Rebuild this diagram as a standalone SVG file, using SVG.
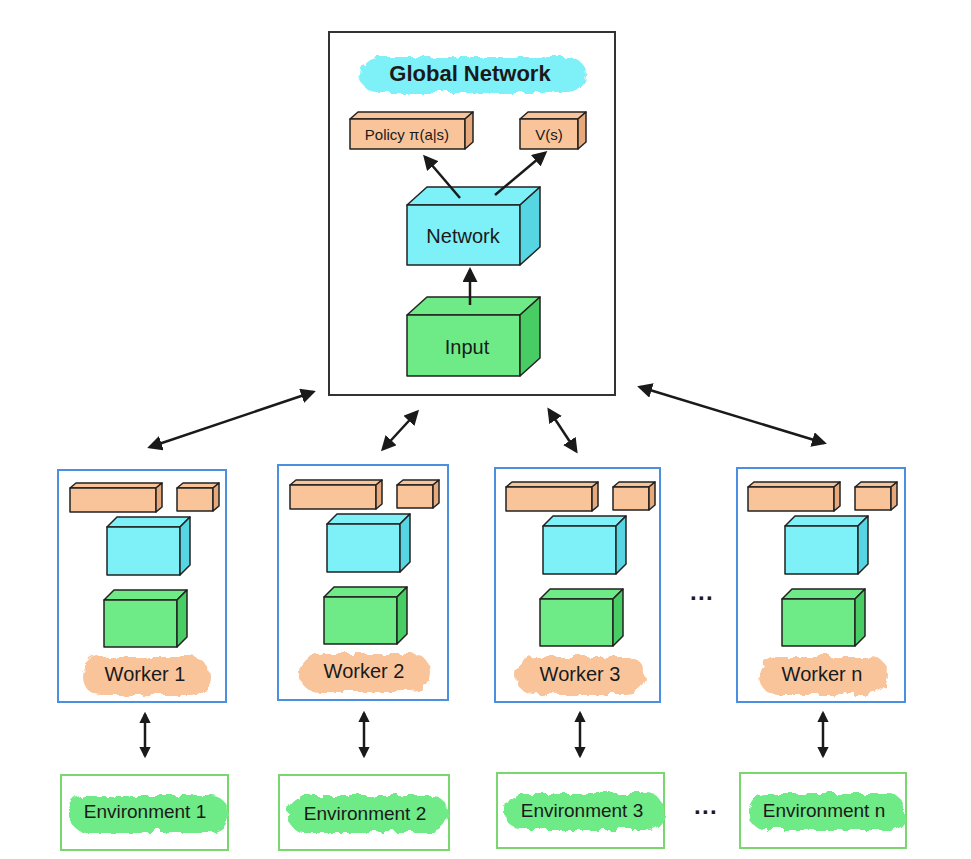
<svg xmlns="http://www.w3.org/2000/svg" width="971" height="859" viewBox="0 0 971 859">
<style>
text{font-family:"Liberation Sans",Arial,sans-serif;fill:#1a1a1a;text-anchor:middle}
.ln{stroke:#222;stroke-width:1.5;stroke-linejoin:round}
.or{fill:#f9c49a}.ord{fill:#e7a87c}.cy{fill:#7ef0f7}.cyd{fill:#55d6e2}.gr{fill:#6eea86}.grd{fill:#48cd64}
.wk{fill:#fff;stroke:#4a8fe0;stroke-width:2}
.env{fill:#fff;stroke:#7ad66e;stroke-width:2}
.con{stroke:#1a1a1a;stroke-width:2.5;fill:none}
</style>
<defs>
<marker id="ah" viewBox="0 0 10 10" refX="8" refY="5" markerWidth="6" markerHeight="6" orient="auto-start-reverse"><path d="M0,0L10,5L0,10z" fill="#1a1a1a"/></marker>
<marker id="as" viewBox="0 0 10 10" refX="8" refY="5" markerWidth="4.5" markerHeight="5" orient="auto-start-reverse"><path d="M0,0L10,5L0,10z" fill="#1a1a1a"/></marker>
<filter id="soft"><feTurbulence baseFrequency="0.06" numOctaves="2" seed="3"/><feDisplacementMap in="SourceGraphic" scale="8"/></filter>
<g id="wcontent">
<polygon class="or ln" points="12,18 98,18 104,13 18,13"/><rect class="or ln" x="12" y="18" width="86" height="24"/><polygon class="ord ln" points="98,18 104,13 104,37 98,42"/>
<polygon class="or ln" points="119,18 155,18 161,13 125,13"/><rect class="or ln" x="119" y="18" width="36" height="23"/><polygon class="ord ln" points="155,18 161,13 161,36 155,41"/>
<polygon class="cy ln" points="49,57 122,57 132,47 59,47"/><rect class="cy ln" x="49" y="57" width="73" height="48"/><polygon class="cyd ln" points="122,57 132,47 132,95 122,105"/>
<polygon class="gr ln" points="46,130 119,130 129,120 56,120"/><rect class="gr ln" x="46" y="130" width="73" height="47"/><polygon class="grd ln" points="119,130 129,120 129,167 119,177"/>
</g>
</defs>

<g id="global">
<rect x="329" y="32" width="286" height="363" fill="#fff" stroke="#333" stroke-width="2"/>
<rect x="358" y="55" width="226" height="36" rx="18" fill="#7ef0f7" filter="url(#soft)"/>
<text x="470" y="81" font-size="22" font-weight="bold">Global Network</text>
<g id="policy">
<polygon class="or ln" points="350,119 465,119 473,112 358,112"/><rect class="or ln" x="350" y="119" width="115" height="30"/><polygon class="ord ln" points="465,119 473,112 473,142 465,149"/>
<text x="407" y="140" font-size="15">Policy π(a|s)</text>
</g>
<g id="value">
<polygon class="or ln" points="520,119 578,119 586,112 528,112"/><rect class="or ln" x="520" y="119" width="58" height="30"/><polygon class="ord ln" points="578,119 586,112 586,142 578,149"/>
<text x="549" y="140" font-size="15">V(s)</text>
</g>
<g id="network">
<polygon class="cy ln" points="407,205 520,205 540,187 427,187"/><rect class="cy ln" x="407" y="205" width="113" height="60"/><polygon class="cyd ln" points="520,205 540,187 540,247 520,265"/>
<text x="463" y="243" font-size="20">Network</text>
</g>
<g id="input">
<polygon class="gr ln" points="407,315 520,315 540,297 427,297"/><rect class="gr ln" x="407" y="315" width="113" height="61"/><polygon class="grd ln" points="520,315 540,297 540,358 520,376"/>
<text x="467" y="354" font-size="20">Input</text>
</g>
</g>

<g id="worker1"><rect class="wk" x="58" y="470" width="168" height="232"/><use href="#wcontent" transform="translate(58,470)"/><rect x="80" y="655" width="128" height="38" rx="19" fill="#f9c49a" filter="url(#soft)"/><text x="145" y="681" font-size="20">Worker 1</text></g>
<g id="worker2"><rect class="wk" x="278" y="465" width="170" height="235"/><use href="#wcontent" transform="translate(278,467)"/><rect x="297" y="652" width="132" height="38" rx="19" fill="#f9c49a" filter="url(#soft)"/><text x="364" y="678" font-size="20">Worker 2</text></g>
<g id="worker3"><rect class="wk" x="495" y="468" width="165" height="234"/><use href="#wcontent" transform="translate(494,469)"/><rect x="514" y="655" width="130" height="38" rx="19" fill="#f9c49a" filter="url(#soft)"/><text x="580" y="681" font-size="20">Worker 3</text></g>
<g id="workern"><rect class="wk" x="737" y="468" width="168" height="234"/><use href="#wcontent" transform="translate(736,469)"/><rect x="757" y="655" width="130" height="38" rx="19" fill="#f9c49a" filter="url(#soft)"/><text x="822" y="681" font-size="20">Worker n</text></g>

<g id="env1"><rect class="env" x="61" y="775" width="167" height="75"/><rect x="68" y="794" width="158" height="36" rx="16" fill="#6eea86" filter="url(#soft)"/><text x="145" y="818" font-size="19">Environment 1</text></g>
<g id="env2"><rect class="env" x="279" y="775" width="170" height="75"/><rect x="286" y="794" width="160" height="36" rx="16" fill="#6eea86" filter="url(#soft)"/><text x="365" y="820" font-size="19">Environment 2</text></g>
<g id="env3"><rect class="env" x="497" y="773" width="167" height="75"/><rect x="504" y="792" width="158" height="36" rx="16" fill="#6eea86" filter="url(#soft)"/><text x="582" y="817" font-size="19">Environment 3</text></g>
<g id="envn"><rect class="env" x="740" y="773" width="166" height="75"/><rect x="747" y="792" width="156" height="36" rx="16" fill="#6eea86" filter="url(#soft)"/><text x="824" y="817" font-size="19">Environment n</text></g>

<text x="702" y="606" font-size="24" font-weight="bold">···</text>
<text x="706" y="820" font-size="24" font-weight="bold">···</text>

<g id="connectors">
<line class="con" x1="150" y1="447" x2="313" y2="392" marker-start="url(#ah)" marker-end="url(#ah)"/>
<line class="con" x1="383" y1="449" x2="417" y2="412" marker-start="url(#ah)" marker-end="url(#ah)"/>
<line class="con" x1="549" y1="410" x2="576" y2="451" marker-start="url(#ah)" marker-end="url(#ah)"/>
<line class="con" x1="640" y1="387" x2="824" y2="443" marker-start="url(#ah)" marker-end="url(#ah)"/>
<line class="con" x1="145" y1="714" x2="145" y2="756" stroke-width="4" marker-start="url(#as)" marker-end="url(#as)"/>
<line class="con" x1="364" y1="713" x2="364" y2="756" stroke-width="4" marker-start="url(#as)" marker-end="url(#as)"/>
<line class="con" x1="580" y1="713" x2="580" y2="756" stroke-width="4" marker-start="url(#as)" marker-end="url(#as)"/>
<line class="con" x1="823" y1="713" x2="823" y2="756" stroke-width="4" marker-start="url(#as)" marker-end="url(#as)"/>
<line class="con" stroke-width="2" x1="460" y1="198" x2="425" y2="157" marker-end="url(#ah)"/>
<line class="con" stroke-width="2" x1="495" y1="195" x2="545" y2="153" marker-end="url(#ah)"/>
<line class="con" stroke-width="2" x1="470" y1="305" x2="470" y2="270" marker-end="url(#ah)"/>
</g>
</svg>
